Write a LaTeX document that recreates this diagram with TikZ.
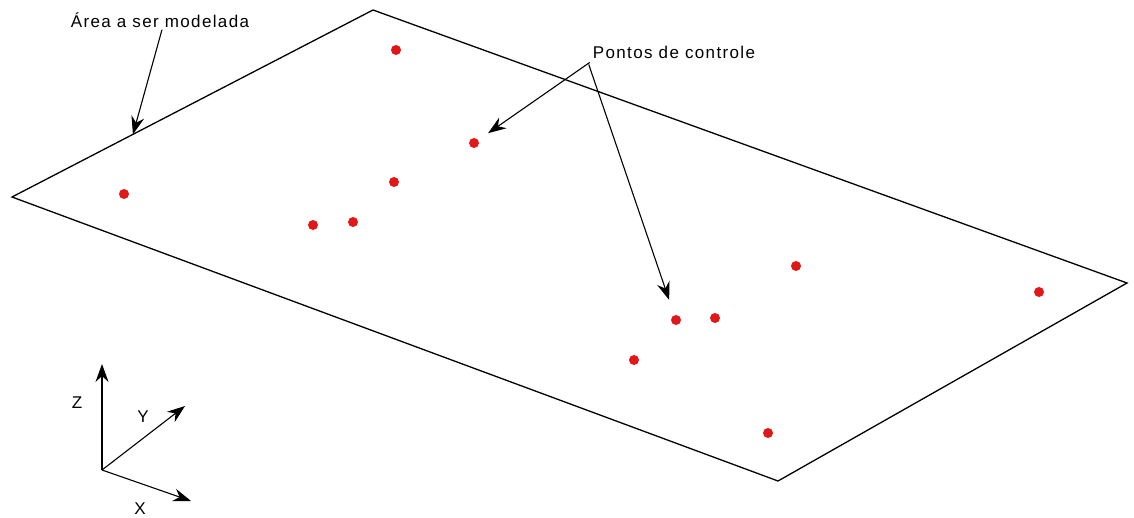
\documentclass[tikz,border=0pt]{standalone}
\usepackage{fontspec}
\setmainfont[LetterSpace=8]{Liberation Sans}
\usepackage{xcolor}
\usetikzlibrary{arrows.meta, calc}
\definecolor{ptred}{RGB}{226,24,24}

\begin{document}
\begin{tikzpicture}[
  x=1pt, y=-1pt,
  font=\fontsize{17}{20}\selectfont,
  >={Stealth[length=18pt, width=13pt, inset=6pt]},
  edge/.style={line width=1.3pt, black},
  pt/.style={circle, fill=ptred, inner sep=0pt, minimum size=10pt},
  lbl/.style={inner sep=2pt},
  arr/.style={->, line width=1.1pt},
]
\useasboundingbox (0,0) rectangle (1134,518);

% area to be modelled
\coordinate (cl) at (12,197);
\coordinate (ct) at (373,10);
\coordinate (cr) at (1127,283);
\coordinate (cb) at (778,481);
\draw[edge] (cl) -- (ct) -- (cr) -- (cb) -- cycle;

% control points
\node[pt] (p1) at (396,50) {};
\node[pt] (p2) at (474,143) {};
\node[pt] (p3) at (124,194) {};
\node[pt] (p4) at (394,182) {};
\node[pt] (p5) at (313,225) {};
\node[pt] (p6) at (353,222) {};
\node[pt] (p7) at (796,266) {};
\node[pt] (p8) at (1039,292) {};
\node[pt] (p9) at (676,320) {};
\node[pt] (p10) at (715,318) {};
\node[pt] (p11) at (634,360) {};
\node[pt] (p12) at (768,433) {};

% labels
\node[lbl] (area) at (160,20) {Área a ser modelada};
\node[lbl] (ctrl) at (674,52) {Pontos de controle};
\coordinate (onedge) at ($(cl)!0.335!(ct)$);

\draw[arr] ([xshift=2pt]area.south) -- (onedge);
\draw[arr, shorten >=12pt] ([xshift=-1pt,yshift=-2pt]ctrl.south west) -- (p2);
\draw[arr, shorten >=16pt] ([xshift=-2pt,yshift=-4pt]ctrl.south west) -- (p9);

% axes
\coordinate (o) at (102,470);
\coordinate (zt) at (102,364);
\coordinate (yt) at (185,406);
\coordinate (xt) at (191,501);
\draw[arr] (o) -- (zt);
\draw[arr] (o) -- (yt);
\draw[arr] (o) -- (xt);
\node[lbl] (zl) at (77,403) {Z};
\node[lbl] (yl) at (143,417) {Y};
\node[lbl, inner sep=0pt] (xl) at (140,509) {X};
\end{tikzpicture}
\end{document}
